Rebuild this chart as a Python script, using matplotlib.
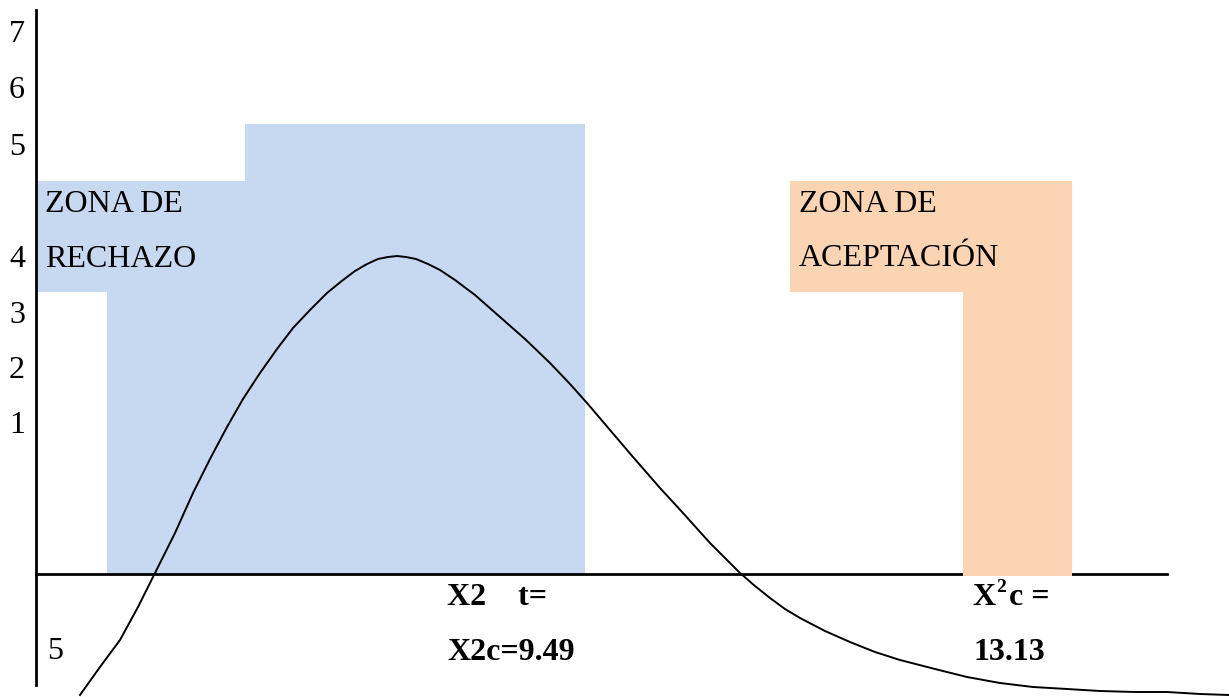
import matplotlib.pyplot as plt
from matplotlib.patches import Polygon

# everything is laid out in picture pixels (y grows downward)
W, H = 1229, 697

# curve
curve_x = [80, 100, 120, 138, 155, 175, 193, 210, 227, 243, 260, 277, 293, 310, 327, 343,
           355, 367, 378, 388, 397, 406, 416, 428, 440, 455, 475, 500, 525, 550, 570, 587,
           610, 633, 660, 683, 710, 740, 755, 770, 785, 800, 825, 850, 875, 900, 935, 967,
           1000, 1033, 1067, 1100, 1135, 1167, 1200, 1229]
curve_y = [695, 667, 640, 607, 573, 533, 493, 459, 427, 399, 373, 349, 328, 310, 293, 280,
           271, 264, 259, 257, 256, 257, 259, 264, 270, 280, 295, 317, 339, 363, 384, 403,
           430, 457, 488, 513, 543, 573, 586, 598, 609, 618, 631, 642, 652, 660, 669, 677,
           683, 687, 689, 691, 692, 692, 694, 695]

# shaded zones (outline corners)
rechazo_x = [37, 245, 245, 585, 585, 107, 107, 37]
rechazo_y = [181, 181, 124, 124, 574, 574, 292, 292]
acept_x = [790, 1072, 1072, 963, 963, 790]
acept_y = [181, 181, 575.5, 575.5, 292, 292]

# y-axis numbers
tick_labels = ['7', '6', '5', '4', '3', '2', '1']
tick_base = [42, 98, 155, 267, 323, 378, 433]

fig = plt.figure(figsize=(W / 100, H / 100), dpi=100)
ax = fig.add_axes([0, 0, 1, 1])
ax.set_xlim(0, W)
ax.set_ylim(H, 0)
ax.axis('off')

ax.add_patch(Polygon(list(zip(rechazo_x, rechazo_y)), closed=True,
                     fc='#C6D9F0', ec='none', zorder=1))
ax.plot([36, 1167], [574, 574], color='black', lw=2, zorder=2)
ax.plot([36, 36], [10, 685], color='black', lw=2, zorder=2)
ax.add_patch(Polygon(list(zip(acept_x, acept_y)), closed=True,
                     fc='#FBD4B4', ec='none', zorder=3))
ax.plot(curve_x, curve_y, color='black', lw=1.4, zorder=4)

serif = 'Liberation Serif'
fs = 23
for lab, yb in zip(tick_labels, tick_base):
    ax.text(17, yb, lab, ha='center', va='baseline', family=serif, fontsize=fs, zorder=5)
ax.text(47, 659, '5', ha='left', va='baseline', family=serif, fontsize=fs)

ax.text(45, 212, 'ZONA DE', va='baseline', family=serif, fontsize=fs, zorder=5)
ax.text(45, 267, 'RECHAZO', va='baseline', family=serif, fontsize=fs, zorder=5)
ax.text(799, 212, 'ZONA DE', va='baseline', family=serif, fontsize=fs, zorder=5)
ax.text(799, 266, 'ACEPTACIÓN', va='baseline', family=serif, fontsize=fs, zorder=5)

bold = dict(va='baseline', family=serif, fontsize=fs, fontweight='bold')
ax.text(447, 605, 'X2    t=', **bold)
ax.text(447, 660, 'X2c=9.49', **bold)
ax.text(972, 605, 'X', **bold)
ax.text(996, 592, '2', va='baseline', family=serif, fontsize=14, fontweight='bold')
ax.text(1009, 605, 'c =', **bold)
ax.text(973, 660, '13.13', **bold)

fig.savefig('out.png', dpi=100)
